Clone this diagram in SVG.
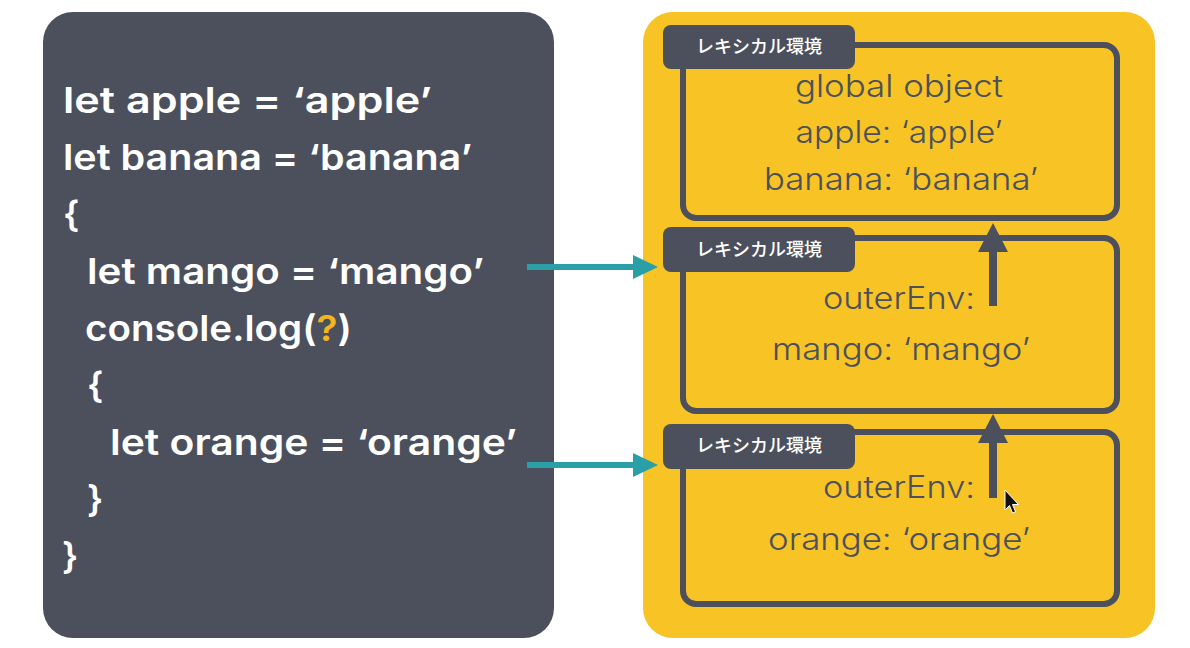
<svg xmlns="http://www.w3.org/2000/svg" width="1190" height="648" viewBox="0 0 1190 648">
<defs>
<style>
.code{font-family:Inter,"Noto Sans","Liberation Sans",sans-serif;font-weight:600;font-size:36px;fill:#ffffff}
.env{font-family:Inter,"Noto Sans","Liberation Sans",sans-serif;font-weight:300;font-size:31px;fill:#4b505c;text-anchor:middle}
.tab{fill:#4b505c}
.tabtxt{font-family:"Noto Sans CJK JP","Noto Sans",sans-serif;font-weight:500;font-size:18px;fill:#ffffff;text-anchor:middle}
.box{fill:none;stroke:#4b505c;stroke-width:6}
.teal{stroke:#2a9fa8;stroke-width:6;fill:none}
.up{stroke:#4b505c;stroke-width:8;fill:none}
</style>
</defs>
<rect x="0" y="0" width="1190" height="648" fill="#ffffff"/>
<g id="code-panel">
<rect x="43" y="12" width="511" height="626" rx="30" fill="#4b505c"/>
<text class="code" x="63" y="113" textLength="369" lengthAdjust="spacingAndGlyphs">let apple = ‘apple’</text>
<text class="code" x="63" y="170" textLength="409" lengthAdjust="spacingAndGlyphs">let banana = ‘banana’</text>
<text class="code" x="63" y="227">{</text>
<text class="code" x="87" y="284" textLength="397" lengthAdjust="spacingAndGlyphs">let mango = ‘mango’</text>
<text class="code" x="85" y="341" textLength="267" lengthAdjust="spacingAndGlyphs">console.log(<tspan fill="#f2b423">?</tspan>)</text>
<text class="code" x="87" y="398">{</text>
<text class="code" x="110" y="455" textLength="407" lengthAdjust="spacingAndGlyphs">let orange = ‘orange’</text>
<text class="code" x="87" y="512">}</text>
<text class="code" x="62" y="569">}</text>
</g>
<g id="env-panel">
<rect x="643" y="12" width="512" height="626" rx="30" fill="#f7c325"/>
</g>
<g id="env-global">
<rect class="box" x="683" y="45" width="434" height="173" rx="13"/>
<rect class="tab" x="663" y="25" width="192" height="44" rx="8"/>
<text class="tabtxt" x="759" y="53">レキシカル環境</text>
<text class="env" x="899" y="97" textLength="208" lengthAdjust="spacingAndGlyphs">global object</text>
<text class="env" x="899" y="143" textLength="207" lengthAdjust="spacingAndGlyphs">apple: ‘apple’</text>
<text class="env" x="901" y="190" textLength="274" lengthAdjust="spacingAndGlyphs">banana: ‘banana’</text>
</g>
<g id="env-mango">
<rect class="box" x="683" y="238" width="434" height="173" rx="13"/>
<rect class="tab" x="663" y="227" width="192" height="45" rx="8"/>
<text class="tabtxt" x="759" y="256">レキシカル環境</text>
<text class="env" x="899" y="309" textLength="152" lengthAdjust="spacingAndGlyphs">outerEnv:</text>
<text class="env" x="901" y="360" textLength="258" lengthAdjust="spacingAndGlyphs">mango: ‘mango’</text>
</g>
<g id="env-orange">
<rect class="box" x="683" y="432" width="434" height="172" rx="13"/>
<rect class="tab" x="663" y="424" width="192" height="45" rx="8"/>
<text class="tabtxt" x="759" y="452">レキシカル環境</text>
<text class="env" x="899" y="498" textLength="152" lengthAdjust="spacingAndGlyphs">outerEnv:</text>
<text class="env" x="899" y="550" textLength="262" lengthAdjust="spacingAndGlyphs">orange: ‘orange’</text>
</g>
<g id="connectors">
<line class="teal" x1="527" y1="267" x2="636" y2="267"/>
<polygon points="633,255 658,267 633,279" fill="#2a9fa8"/>
<line class="teal" x1="527" y1="465" x2="636" y2="465"/>
<polygon points="633,453 658,465 633,477" fill="#2a9fa8"/>
<line class="up" x1="993" y1="306" x2="993" y2="248"/>
<polygon points="993,223 1008,252 978,252" fill="#4b505c"/>
<line class="up" x1="993" y1="498" x2="993" y2="440"/>
<polygon points="993,414 1008,443 978,443" fill="#4b505c"/>
</g>
<g id="cursor">
<path d="M1005,490 L1005,510 L1009.5,505.5 L1012.5,513 L1015.5,511.8 L1012.5,504.5 L1018.5,504.5 Z" fill="#111111" stroke="#ffffff" stroke-width="1"/>
</g>
</svg>
